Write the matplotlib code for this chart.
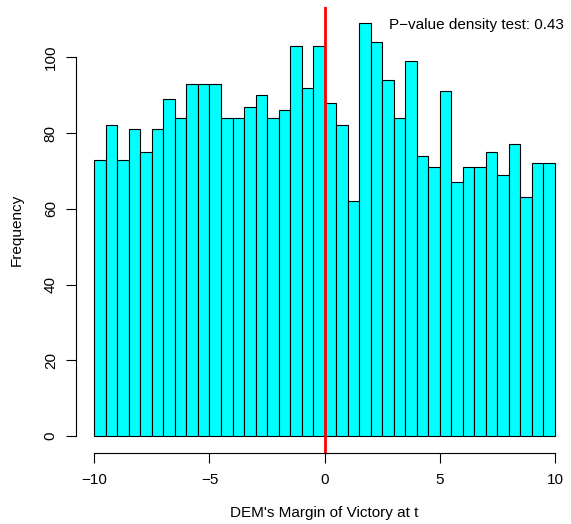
import numpy as np
import matplotlib
matplotlib.use("Agg")
import matplotlib.pyplot as plt

# histogram counts per 0.5-wide bin of DEM margin, -10 .. 10
bin_edges = np.arange(-10, 10.5, 0.5)
counts = [73, 82, 73, 81, 75, 81, 89, 84, 93, 93,
          93, 84, 84, 87, 90, 84, 86, 103, 92, 103,
          88, 82, 62, 109, 104, 94, 84, 99, 74, 71,
          91, 67, 71, 71, 75, 69, 77, 63, 72, 72]
cutoff = 0
p_value = 0.43

plt.rcParams['font.family'] = ['Liberation Sans', 'DejaVu Sans']
fs = 11

W, H = 571, 524
fig = plt.figure(figsize=(W / 100, H / 100), dpi=100)
# plot region in pixels: left, bottom, right, top
left, right, top, bottom = 75.9, 573.4, 6.7, 452.5
ax = fig.add_axes([left / W, 1 - bottom / H, (right - left) / W, (bottom - top) / H])

ax.bar(bin_edges[:-1], counts, width=0.5, align='edge',
       color='#00FFFF', edgecolor='black', linewidth=0.8)
ax.axvline(cutoff, color='#FF0000', linewidth=2.0)

ymax = max(counts)
ax.set_xlim(-10.8, 10.8)
ax.set_ylim(-0.04 * ymax, ymax * 1.04)

for s in ['top', 'right']:
    ax.spines[s].set_visible(False)
ax.spines['left'].set_bounds(0, 100)
ax.spines['bottom'].set_bounds(-10, 10)
ax.spines['left'].set_linewidth(0.8)
ax.spines['bottom'].set_linewidth(0.8)

ax.set_xticks([-10, -5, 0, 5, 10])
ax.set_yticks([0, 20, 40, 60, 80, 100])
ax.tick_params(axis='x', length=7, width=0.8, pad=8, labelsize=fs)
ax.tick_params(axis='y', length=7, width=0.8, pad=6, labelsize=fs)
for lab in ax.get_yticklabels():
    lab.set_rotation(90)
    lab.set_va('center')

ax.text(6.6, 108.5, "P\u2212value density test: %.2f" % p_value,
        ha='center', va='center', fontsize=fs)

fig.text((left + right) / 2 / W, 1 - 513.3 / H, "DEM's Margin of Victory at t",
         ha='center', va='center', fontsize=fs)
fig.text(16.7 / W, 1 - (top + bottom) / 2 / H, "Frequency",
         ha='center', va='center', rotation=90, fontsize=fs)

fig.savefig("out.png", dpi=100)
